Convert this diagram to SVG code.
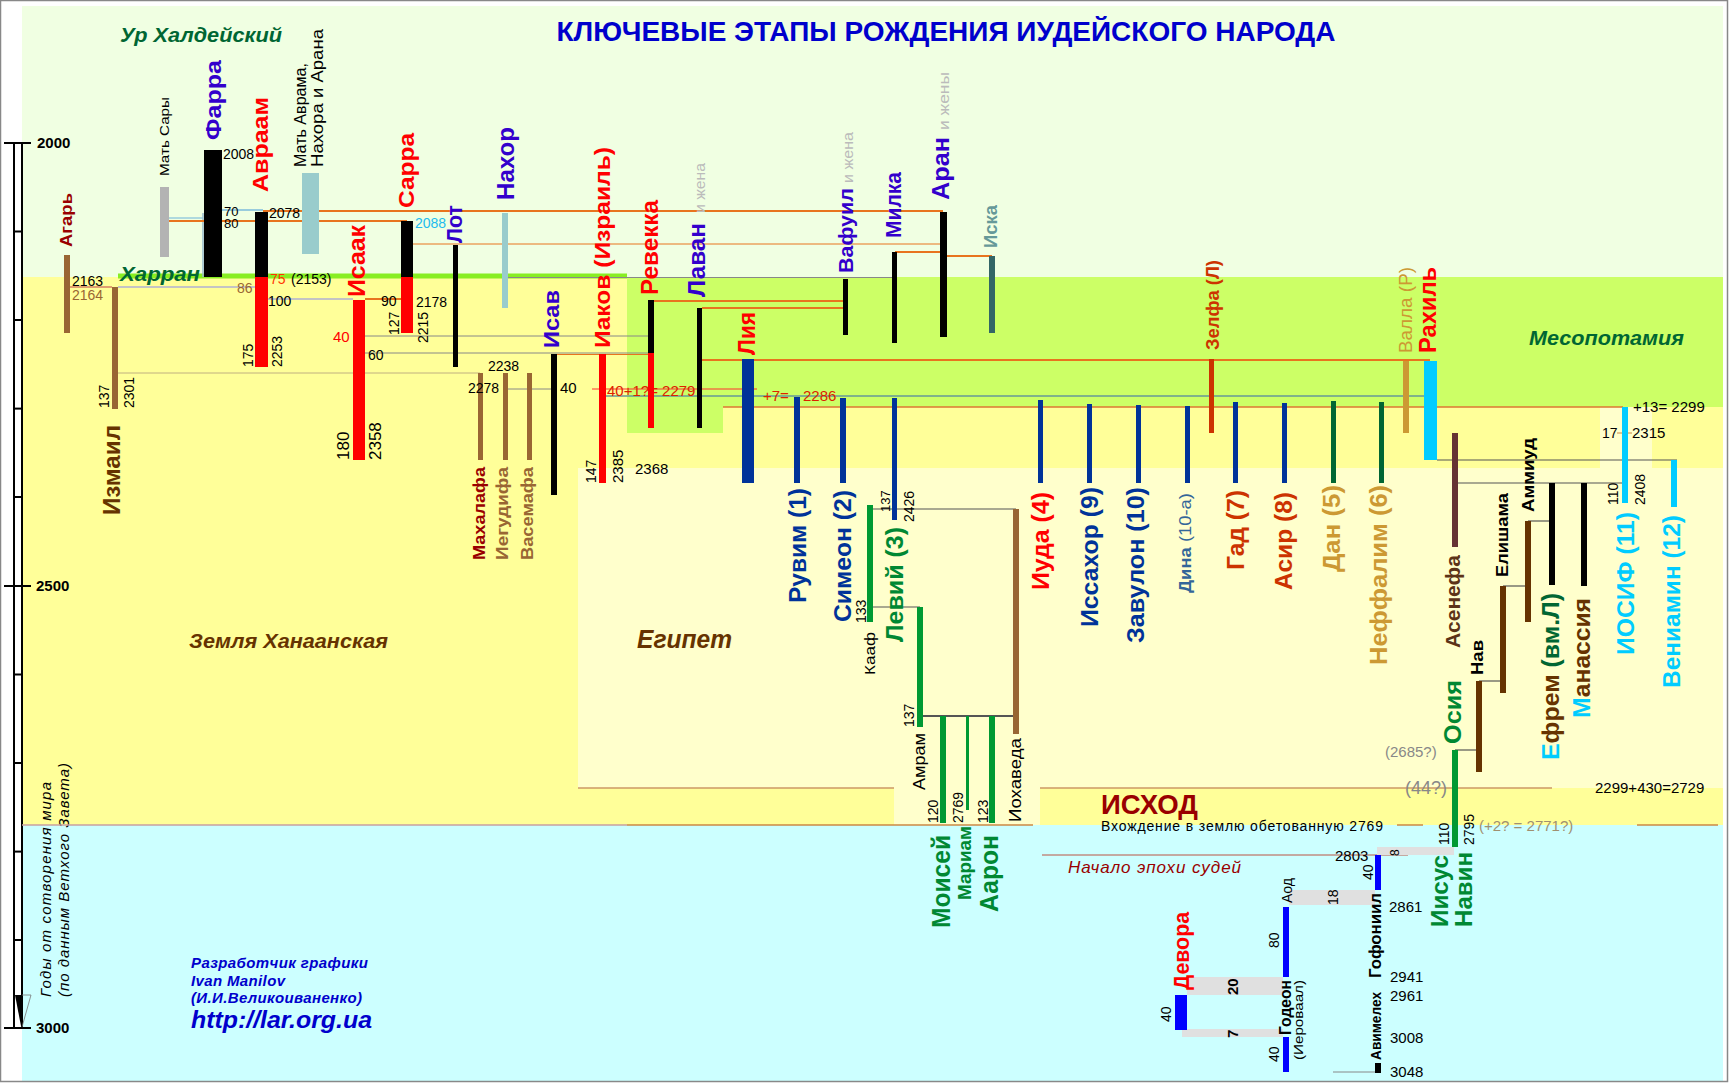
<svg xmlns="http://www.w3.org/2000/svg" width="1729" height="1083" viewBox="0 0 1729 1083">
<style>
text{font-family:"Liberation Sans",Arial,Helvetica,sans-serif}
.b{font-weight:bold}
.it{font-style:italic}
.n{font-size:14px;fill:#000}
.n15{font-size:15px;fill:#000}
.lo{stroke:#E8741E;stroke-width:2;fill:none}
.lot{stroke:#E8741E;stroke-width:1;fill:none}
.lg{stroke:#888;stroke-width:1;fill:none}
.llg{stroke:#C4C4C4;stroke-width:2;fill:none}
.ld{stroke:#555;stroke-width:1.2;fill:none}
.ax{stroke:#000;stroke-width:2}
.band{fill:#E0E0E0}
</style>
<g id="background">
<rect x="0" y="0" width="1729" height="1083" fill="#FFFFFF"/>
<rect x="22" y="6" width="1701" height="271" fill="#F0FFE2"/>
<rect x="22" y="277" width="1701" height="548" fill="#FFFF99"/>
<rect x="627" y="277" width="1096" height="130" fill="#CCFF66"/>
<rect x="627" y="407" width="96" height="26" fill="#CCFF66"/>
<rect x="578" y="468" width="1145" height="320" fill="#FFFFCC"/>
<rect x="1600" y="407" width="52" height="61" fill="#FFFFCC"/>
<rect x="894" y="788" width="146" height="37" fill="#FFFFCC"/>
<rect x="22" y="825" width="1701" height="256" fill="#CCFFFF"/>
<rect x="0.5" y="0.5" width="1727" height="1081" fill="none" stroke="#888" stroke-width="1.5"/>
</g>
<g id="axis">
<line class="ax" x1="14" y1="143" x2="14" y2="1028"/>
<line class="ax" x1="22" y1="143" x2="22" y2="1028"/>
<line class="ax" x1="4" y1="143" x2="31" y2="143"/>
<line class="ax" x1="4" y1="586" x2="31" y2="586"/>
<line class="ax" x1="4" y1="1028" x2="31" y2="1028"/>
<line class="ax" x1="14" y1="231.5" x2="22" y2="231.5"/>
<line class="ax" x1="14" y1="320" x2="22" y2="320"/>
<line class="ax" x1="14" y1="408.6" x2="22" y2="408.6"/>
<line class="ax" x1="14" y1="497" x2="22" y2="497"/>
<line class="ax" x1="14" y1="674.5" x2="22" y2="674.5"/>
<line class="ax" x1="14" y1="763" x2="22" y2="763"/>
<line class="ax" x1="14" y1="851.6" x2="22" y2="851.6"/>
<line class="ax" x1="14" y1="940" x2="22" y2="940"/>
<polygon points="15,995 22,995 21,1026" fill="#000"/>
<line x1="22" y1="995" x2="31" y2="995" stroke="#777" stroke-width="0.8"/>
<line x1="31" y1="995" x2="22" y2="1027" stroke="#777" stroke-width="0.8"/>
<text class="b" font-size="15" x="37" y="148">2000</text>
<text class="b" font-size="15" x="36" y="591">2500</text>
<text class="b" font-size="15" x="36" y="1033">3000</text>
<text class="it" font-size="15" transform="translate(51,997) rotate(-90)" textLength="215" lengthAdjust="spacing">Годы от сотворения мира</text>
<text class="it" font-size="15" transform="translate(69,997) rotate(-90)" textLength="234" lengthAdjust="spacing">(по данным Ветхого Завета)</text>
</g>
<g id="connectors">
<line x1="118" y1="276" x2="627" y2="276" stroke="#88EE22" stroke-width="5"/>
<line x1="70" y1="287" x2="112" y2="287" stroke="#E0A070" stroke-width="2"/>
<line class="llg" x1="118" y1="287" x2="255" y2="287"/>
<line x1="222" y1="210" x2="263" y2="210" stroke="#99CCDD" stroke-width="2"/>
<line x1="164" y1="218" x2="203" y2="218" stroke="#99CCDD" stroke-width="1.5"/>
<line x1="203" y1="213" x2="203" y2="277" stroke="#99BBCC" stroke-width="1.5"/>
<line class="lo" x1="263" y1="211" x2="943" y2="211"/>
<line class="lo" x1="164" y1="221" x2="407" y2="221"/>
<line class="lot" x1="413" y1="244" x2="943" y2="244"/>
<line class="lg" x1="505" y1="277.5" x2="895" y2="277.5" stroke-width="1.5"/>
<line class="lo" x1="895" y1="252" x2="943" y2="252"/>
<line class="lo" x1="943" y1="256" x2="992" y2="256"/>
<line class="llg" x1="263" y1="299" x2="353" y2="299"/>
<line class="lo" x1="365" y1="299" x2="401" y2="299"/>
<line class="lo" x1="654" y1="301" x2="845" y2="301"/>
<line class="lo" x1="702" y1="308" x2="845" y2="308"/>
<line class="lg" x1="365" y1="336" x2="648" y2="336"/>
<line class="lg" x1="365" y1="353" x2="648" y2="353"/>
<line class="lot" x1="557" y1="354.5" x2="648" y2="354.5"/>
<line class="lo" x1="702" y1="360" x2="1430" y2="360" stroke-width="2.5"/>
<line x1="118" y1="373" x2="480" y2="373" stroke="#C0B080" stroke-width="1"/>
<line class="lg" x1="505" y1="389" x2="553" y2="389"/>
<line x1="592" y1="389" x2="757" y2="389" stroke="#FF3333" stroke-width="1"/>
<line x1="603" y1="396" x2="1430" y2="396" stroke="#669999" stroke-width="1.5"/>
<line x1="723" y1="407" x2="1623" y2="407" stroke="#DD7733" stroke-width="1.5"/>
<line x1="1617" y1="433" x2="1632" y2="433" stroke="#CC8844" stroke-width="1"/>
<line class="ld" x1="1437" y1="460" x2="1677" y2="460"/>
<line class="ld" x1="1455" y1="483" x2="1623" y2="483"/>
<line class="ld" x1="870" y1="509" x2="1016" y2="509"/>
<line class="ld" x1="870" y1="607" x2="920" y2="607"/>
<line x1="920" y1="716" x2="1016" y2="716" stroke="#555" stroke-width="2"/>
<line class="ld" x1="1528" y1="521" x2="1552" y2="521"/>
<line class="ld" x1="1503" y1="586" x2="1528" y2="586"/>
<line class="ld" x1="1479" y1="681" x2="1503" y2="681"/>
<line class="ld" x1="1455" y1="750" x2="1479" y2="750"/>
<line x1="578" y1="788" x2="894" y2="788" stroke="#CC9966" stroke-width="1.5"/>
<line x1="1040" y1="788" x2="1552" y2="788" stroke="#CC9966" stroke-width="1.5"/>
<line x1="22" y1="825" x2="627" y2="825" stroke="#C8A0A0" stroke-width="1.5"/>
<line x1="627" y1="825" x2="1033" y2="825" stroke="#CC8844" stroke-width="1.5"/>
<line x1="1397" y1="825" x2="1423" y2="825" stroke="#CC8844" stroke-width="1.5"/>
<line x1="1637" y1="825" x2="1718" y2="825" stroke="#CC8844" stroke-width="1.5"/>
<line x1="1042" y1="855" x2="1408" y2="855" stroke="#BB5544" stroke-width="1"/>
<line class="lg" x1="1333" y1="1072" x2="1377" y2="1072"/>
<rect class="band" x="1377" y="847" width="77" height="8"/>
<rect class="band" x="1289" y="890" width="86" height="15"/>
<rect class="band" x="1187" y="977" width="96" height="18"/>
<rect class="band" x="1182" y="1029" width="101" height="8"/>
</g>
<g id="titles">
<text class="b" font-size="27" fill="#0000CC" x="946" y="41" text-anchor="middle" textLength="779" lengthAdjust="spacingAndGlyphs">КЛЮЧЕВЫЕ ЭТАПЫ РОЖДЕНИЯ ИУДЕЙСКОГО НАРОДА</text>
<text class="b it" font-size="20" fill="#006633" x="120" y="42" textLength="162" lengthAdjust="spacingAndGlyphs">Ур Халдейский</text>
<text class="b it" font-size="21" fill="#006633" x="120" y="281" textLength="80" lengthAdjust="spacingAndGlyphs">Харран</text>
<text class="b it" font-size="21" fill="#006633" x="1529" y="345" textLength="155" lengthAdjust="spacingAndGlyphs">Месопотамия</text>
<text class="b it" font-size="20" fill="#663300" x="189" y="648" textLength="199" lengthAdjust="spacingAndGlyphs">Земля Ханаанская</text>
<text class="b it" font-size="25" fill="#663300" x="637" y="648" textLength="95" lengthAdjust="spacingAndGlyphs">Египет</text>
<text class="b" font-size="27" fill="#990000" x="1101" y="814" textLength="97" lengthAdjust="spacingAndGlyphs">ИСХОД</text>
<text font-size="14" x="1101" y="831" textLength="282" lengthAdjust="spacing">Вхождение в землю обетованную 2769</text>
<text class="it" font-size="17" fill="#990000" x="1068" y="873" textLength="173" lengthAdjust="spacing">Начало эпохи судей</text>
<text class="b it" font-size="15" fill="#0000CC" x="191" y="968" textLength="177" lengthAdjust="spacing">Разработчик графики</text>
<text class="b it" font-size="15" fill="#0000CC" x="191" y="986" textLength="94" lengthAdjust="spacing">Ivan Manilov</text>
<text class="b it" font-size="15" fill="#0000CC" x="191" y="1003" textLength="171" lengthAdjust="spacing">(И.И.Великоиваненко)</text>
<text class="b it" font-size="24" fill="#0000CC" x="191" y="1028" textLength="181" lengthAdjust="spacingAndGlyphs">http://lar.org.ua</text>
</g>
<g id="n-agar">
<rect x="64" y="255" width="6" height="78" fill="#996633"/>
<text class="b" font-size="17" fill="#990000" transform="translate(71.6,247) rotate(-90)" textLength="54" lengthAdjust="spacingAndGlyphs">Агарь</text>
<text class="n" x="72" y="286">2163</text>
<text class="n" x="72" y="300" style="fill:#996633">2164</text>
</g>
<g id="n-izmail">
<rect x="112" y="287" width="6" height="122" fill="#996633"/>
<text class="b" font-size="24" fill="#663300" transform="translate(120.4,515) rotate(-90)" textLength="90" lengthAdjust="spacingAndGlyphs">Измаил</text>
<text class="n" transform="translate(109,408) rotate(-90)">137</text>
<text class="n" transform="translate(134,408) rotate(-90)">2301</text>
</g>
<g id="n-mat-sary">
<rect x="160" y="187" width="9" height="70" fill="#B3B3B3"/>
<text font-size="13" transform="translate(169.3,176) rotate(-90)" textLength="79" lengthAdjust="spacingAndGlyphs">Мать Сары</text>
</g>
<g id="n-farra">
<rect x="204" y="150" width="18" height="127" fill="#000"/>
<text class="b" font-size="22" fill="#3300CC" transform="translate(220.6,140) rotate(-90)" textLength="80" lengthAdjust="spacingAndGlyphs">Фарра</text>
<text class="n" x="223" y="159">2008</text>
<text font-size="13" x="224" y="216">70</text>
<text font-size="13" x="224" y="228">80</text>
</g>
<g id="n-avraam">
<rect x="255" y="212" width="13" height="65" fill="#000"/>
<rect x="255" y="277" width="13" height="90" fill="#FF0000"/>
<text class="b" font-size="22" fill="#FF0000" transform="translate(268.3,192) rotate(-90)" textLength="95" lengthAdjust="spacingAndGlyphs">Авраам</text>
<text class="n" x="269" y="218">2078</text>
<text class="n" x="270" y="284" style="fill:#FF3300">75</text>
<text class="n" x="291" y="284">(2153)</text>
<text class="n" x="237" y="293" style="fill:#996633">86</text>
<text class="n" x="268" y="306">100</text>
<text class="n" transform="translate(253,367) rotate(-90)">175</text>
<text class="n" transform="translate(282,367) rotate(-90)">2253</text>
</g>
<g id="n-mat-avrama">
<rect x="302" y="173" width="17" height="81" fill="#99CCCC"/>
<text font-size="16" transform="translate(305.9,167) rotate(-90)" textLength="104" lengthAdjust="spacingAndGlyphs">Мать Аврама,</text>
<text font-size="16" transform="translate(322.8,167) rotate(-90)" textLength="138" lengthAdjust="spacingAndGlyphs">Нахора и Арана</text>
</g>
<g id="n-sarra">
<rect x="401" y="221" width="12" height="56" fill="#000"/>
<rect x="401" y="277" width="12" height="56" fill="#FF0000"/>
<text class="b" font-size="22" fill="#FF0000" transform="translate(414.3,208) rotate(-90)" textLength="75" lengthAdjust="spacingAndGlyphs">Сарра</text>
<text class="n" x="415" y="228" style="fill:#22BBEE">2088</text>
<text class="n" x="416" y="307">2178</text>
<text class="n" x="381" y="306">90</text>
<text class="n" transform="translate(399,335) rotate(-90)">127</text>
<text class="n" transform="translate(427.5,343) rotate(-90)">2215</text>
</g>
<g id="n-isaak">
<rect x="353" y="300" width="12" height="160" fill="#FF0000"/>
<text class="b" font-size="24" fill="#FF0000" transform="translate(365.4,297) rotate(-90)" textLength="72" lengthAdjust="spacingAndGlyphs">Исаак</text>
<text font-size="15" x="333" y="342" fill="#FF0000">40</text>
<text class="n" x="368" y="360">60</text>
<text font-size="17" transform="translate(349.1,460) rotate(-90)">180</text>
<text font-size="17" transform="translate(380.6,460) rotate(-90)">2358</text>
</g>
<g id="n-lot">
<rect x="453" y="245" width="5" height="122" fill="#000"/>
<text class="b" font-size="22" fill="#3300CC" transform="translate(462.3,243) rotate(-90)" textLength="38" lengthAdjust="spacingAndGlyphs">Лот</text>
</g>
<g id="n-nahor">
<rect x="502" y="213" width="6" height="95" fill="#99CCCC"/>
<text class="b" font-size="23" fill="#3300CC" transform="translate(514.3,200) rotate(-90)" textLength="73" lengthAdjust="spacingAndGlyphs">Нахор</text>
</g>
<g id="n-isav">
<rect x="551" y="354" width="6" height="141" fill="#000"/>
<text class="b" font-size="22" fill="#3300CC" transform="translate(559,348) rotate(-90)" textLength="58" lengthAdjust="spacingAndGlyphs">Исав</text>
<text font-size="15" x="560" y="393">40</text>
</g>
<g id="n-iakov">
<rect x="599" y="354" width="7" height="129" fill="#FF0000"/>
<text class="b" font-size="22" fill="#FF0000" transform="translate(609.8,348) rotate(-90)" textLength="201" lengthAdjust="spacingAndGlyphs">Иаков (Израиль)</text>
<text class="n" transform="translate(596,483) rotate(-90)">147</text>
<text font-size="15" transform="translate(622.5,483) rotate(-90)">2385</text>
<text font-size="15" x="635" y="474">2368</text>
<text font-size="15" x="607" y="396" fill="#DD2200">40+1?= 2279</text>
<text font-size="15" x="763" y="401" fill="#DD2200">+7=</text>
<text font-size="15" x="803" y="401" fill="#DD2200">2286</text>
</g>
<g id="n-revekka">
<rect x="648" y="300" width="6" height="53" fill="#000"/>
<rect x="648" y="353" width="6" height="75" fill="#FF0000"/>
<text class="b" font-size="24" fill="#FF0000" transform="translate(657.6,295) rotate(-90)" textLength="95" lengthAdjust="spacingAndGlyphs">Ревекка</text>
</g>
<g id="n-lavan">
<rect x="697" y="308" width="5" height="120" fill="#000"/>
<text class="b" font-size="23" fill="#3300CC" transform="translate(705.1,297) rotate(-90)" textLength="74" lengthAdjust="spacingAndGlyphs">Лаван</text>
<text font-size="15" fill="#BBBBBB" transform="translate(705.1,213) rotate(-90)" textLength="50" lengthAdjust="spacingAndGlyphs">и жена</text>
</g>
<g id="n-vafuil">
<rect x="843" y="279" width="5" height="56" fill="#000"/>
<text class="b" font-size="21" fill="#3300CC" transform="translate(852.9,273) rotate(-90)" textLength="85" lengthAdjust="spacingAndGlyphs">Вафуил</text>
<text font-size="15" fill="#BBBBBB" transform="translate(852.9,183) rotate(-90)" textLength="51" lengthAdjust="spacingAndGlyphs">и жена</text>
</g>
<g id="n-liya">
<rect x="742" y="359" width="12" height="124" fill="#003399"/>
<text class="b" font-size="23" fill="#FF0000" transform="translate(755.1,355) rotate(-90)" textLength="43" lengthAdjust="spacingAndGlyphs">Лия</text>
</g>
<g id="n-milka">
<rect x="892" y="252" width="5" height="91" fill="#000"/>
<text class="b" font-size="22" fill="#3300CC" transform="translate(901.3,238) rotate(-90)" textLength="66" lengthAdjust="spacingAndGlyphs">Милка</text>
</g>
<g id="n-aran">
<rect x="940" y="212" width="7" height="125" fill="#000"/>
<text class="b" font-size="24" fill="#3300CC" transform="translate(948.9,200) rotate(-90)" textLength="63" lengthAdjust="spacingAndGlyphs">Аран</text>
<text font-size="15" fill="#BBBBBB" transform="translate(948.9,130) rotate(-90)" textLength="58" lengthAdjust="spacingAndGlyphs">и жены</text>
</g>
<g id="n-iska">
<rect x="989" y="256" width="6" height="77" fill="#336666"/>
<text class="b" font-size="19" fill="#669999" transform="translate(996.8,248) rotate(-90)" textLength="43" lengthAdjust="spacingAndGlyphs">Иска</text>
</g>
<g id="n-zelfa">
<rect x="1209" y="359" width="5" height="74" fill="#CC3300"/>
<text font-size="19" fill="#CC3300" style="font-weight:600" transform="translate(1218.8,350) rotate(-90)" textLength="90" lengthAdjust="spacingAndGlyphs">Зелфа (Л)</text>
</g>
<g id="n-valla">
<rect x="1403" y="361" width="6" height="72" fill="#CC9933"/>
<text font-size="18" fill="#CC9933" transform="translate(1412.4,353) rotate(-90)" textLength="86" lengthAdjust="spacingAndGlyphs">Валла (Р)</text>
</g>
<g id="n-rahil">
<rect x="1424" y="361" width="13" height="99" fill="#00CCFF"/>
<text class="b" font-size="24" fill="#FF0000" transform="translate(1435.9,353) rotate(-90)" textLength="86" lengthAdjust="spacingAndGlyphs">Рахиль</text>
</g>
<g id="n-mahalafa">
<rect x="478" y="373" width="5" height="87" fill="#996633"/>
<text class="b" font-size="17" fill="#990000" transform="translate(485.1,560) rotate(-90)" textLength="93" lengthAdjust="spacingAndGlyphs">Махалафа</text>
<text class="n" x="488" y="371">2238</text>
<text class="n" x="468" y="393">2278</text>
</g>
<g id="n-iegudifa">
<rect x="503" y="373" width="5" height="87" fill="#996633"/>
<text class="b" font-size="17" fill="#996633" transform="translate(508.1,560) rotate(-90)" textLength="93" lengthAdjust="spacingAndGlyphs">Иегудифа</text>
</g>
<g id="n-vasemafa">
<rect x="527" y="373" width="5" height="87" fill="#996633"/>
<text class="b" font-size="17" fill="#996633" transform="translate(533.1,560) rotate(-90)" textLength="93" lengthAdjust="spacingAndGlyphs">Васемафа</text>
</g>
<g id="n-ruvim">
<rect x="794" y="397" width="6" height="86" fill="#003399"/>
<text class="b" font-size="24" fill="#003399" transform="translate(806.4,603) rotate(-90)" textLength="115" lengthAdjust="spacingAndGlyphs">Рувим (1)</text>
</g>
<g id="n-simeon">
<rect x="840" y="398" width="6" height="85" fill="#003399"/>
<text class="b" font-size="24" fill="#003399" transform="translate(851.4,622) rotate(-90)" textLength="132" lengthAdjust="spacingAndGlyphs">Симеон (2)</text>
</g>
<g id="n-leviy">
<rect x="892" y="398" width="5" height="122" fill="#003399"/>
<text class="b" font-size="24" fill="#008833" transform="translate(902.9,642) rotate(-90)" textLength="115" lengthAdjust="spacingAndGlyphs">Левий (3)</text>
<text font-size="13" transform="translate(890.3,512) rotate(-90)">137</text>
<text class="n" transform="translate(914,522) rotate(-90)">2426</text>
</g>
<g id="n-kaaf">
<rect x="867" y="505" width="6" height="117" fill="#009933"/>
<text font-size="15" transform="translate(875,675) rotate(-90)" textLength="43" lengthAdjust="spacingAndGlyphs">Кааф</text>
<text class="n" transform="translate(866,623) rotate(-90)">133</text>
</g>
<g id="n-amram">
<rect x="917" y="607" width="6" height="120" fill="#009933"/>
<text font-size="17" transform="translate(925.1,790) rotate(-90)" textLength="57" lengthAdjust="spacingAndGlyphs">Амрам</text>
<text class="n" transform="translate(914,727) rotate(-90)">137</text>
</g>
<g id="n-iohaveda">
<rect x="1013" y="509" width="6" height="225" fill="#996633"/>
<text font-size="17" transform="translate(1020.6,822) rotate(-90)" textLength="84" lengthAdjust="spacingAndGlyphs">Иохаведа</text>
</g>
<g id="n-moisey">
<rect x="940" y="716" width="6" height="107" fill="#009933"/>
<text class="b" font-size="25" fill="#008833" transform="translate(950.3,928) rotate(-90)" textLength="93" lengthAdjust="spacingAndGlyphs">Моисей</text>
<text class="n" transform="translate(937.5,823) rotate(-90)">120</text>
</g>
<g id="n-mariam">
<rect x="966" y="716" width="3" height="94" fill="#009933"/>
<text class="b" font-size="18" fill="#008833" transform="translate(971.4,900) rotate(-90)" textLength="74" lengthAdjust="spacingAndGlyphs">Мариам</text>
<text class="n" transform="translate(962.5,823) rotate(-90)">2769</text>
</g>
<g id="n-aaron">
<rect x="989" y="716" width="6" height="107" fill="#009933"/>
<text class="b" font-size="25" fill="#008833" transform="translate(998.3,912) rotate(-90)" textLength="77" lengthAdjust="spacingAndGlyphs">Аарон</text>
<text class="n" transform="translate(987.5,823) rotate(-90)">123</text>
</g>
<g id="n-iuda">
<rect x="1038" y="400" width="5" height="83" fill="#003399"/>
<text class="b" font-size="24" fill="#FF0000" transform="translate(1049.4,590) rotate(-90)" textLength="98" lengthAdjust="spacingAndGlyphs">Иуда (4)</text>
</g>
<g id="n-issahor">
<rect x="1087" y="404" width="5" height="79" fill="#003399"/>
<text class="b" font-size="24" fill="#003399" transform="translate(1097.9,627) rotate(-90)" textLength="140" lengthAdjust="spacingAndGlyphs">Иссахор (9)</text>
</g>
<g id="n-zavulon">
<rect x="1136" y="405" width="5" height="78" fill="#003399"/>
<text class="b" font-size="24" fill="#003399" transform="translate(1144.4,643) rotate(-90)" textLength="156" lengthAdjust="spacingAndGlyphs">Завулон (10)</text>
</g>
<g id="n-dina">
<rect x="1185" y="406" width="5" height="77" fill="#003399"/>
<text font-size="17" fill="#336699" transform="translate(1191.1,593) rotate(-90)" textLength="100" lengthAdjust="spacingAndGlyphs"><tspan font-weight="bold">Дина</tspan> (10-а)</text>
</g>
<g id="n-gad">
<rect x="1233" y="402" width="5" height="81" fill="#003399"/>
<text class="b" font-size="24" fill="#CC3300" transform="translate(1244.4,570) rotate(-90)" textLength="80" lengthAdjust="spacingAndGlyphs">Гад (7)</text>
</g>
<g id="n-asir">
<rect x="1282" y="403" width="5" height="80" fill="#003399"/>
<text class="b" font-size="24" fill="#CC3300" transform="translate(1291.9,590) rotate(-90)" textLength="98" lengthAdjust="spacingAndGlyphs">Асир (8)</text>
</g>
<g id="n-dan">
<rect x="1331" y="401" width="5" height="82" fill="#006633"/>
<text class="b" font-size="24" fill="#CC9933" transform="translate(1340.4,572) rotate(-90)" textLength="87" lengthAdjust="spacingAndGlyphs">Дан (5)</text>
</g>
<g id="n-neffalim">
<rect x="1379" y="402" width="5" height="81" fill="#006633"/>
<text class="b" font-size="24" fill="#CC9933" transform="translate(1386.9,665) rotate(-90)" textLength="180" lengthAdjust="spacingAndGlyphs">Неффалим (6)</text>
</g>
<g id="n-asenefa">
<rect x="1452" y="433" width="6" height="114" fill="#663333"/>
<text class="b" font-size="21" fill="#5C3317" transform="translate(1459.9,648) rotate(-90)" textLength="93" lengthAdjust="spacingAndGlyphs">Асенефа</text>
</g>
<g id="n-iosif">
<rect x="1622" y="407" width="6" height="96" fill="#00CCFF"/>
<text class="b" font-size="24" fill="#00CCFF" transform="translate(1634.4,655) rotate(-90)" textLength="143" lengthAdjust="spacingAndGlyphs">ИОСИФ (11)</text>
<text class="n15" x="1633" y="412">+13= 2299</text>
<text class="n" x="1602" y="438">17</text>
<text class="n15" x="1632" y="438">2315</text>
<text class="n" transform="translate(1618,505) rotate(-90)">110</text>
<text class="n" transform="translate(1645,505) rotate(-90)">2408</text>
</g>
<g id="n-veniamin">
<rect x="1671" y="460" width="6" height="47" fill="#00CCFF"/>
<text class="b" font-size="24" fill="#00CCFF" transform="translate(1680.4,688) rotate(-90)" textLength="173" lengthAdjust="spacingAndGlyphs">Вениамин (12)</text>
</g>
<g id="n-ammiud">
<rect x="1525" y="521" width="6" height="101" fill="#663300"/>
<text class="b" font-size="17" transform="translate(1534.1,512) rotate(-90)" textLength="74" lengthAdjust="spacingAndGlyphs">Аммиуд</text>
</g>
<g id="n-elishama">
<rect x="1500" y="586" width="6" height="107" fill="#663300"/>
<text class="b" font-size="17" transform="translate(1508.1,577) rotate(-90)" textLength="84" lengthAdjust="spacingAndGlyphs">Елишама</text>
</g>
<g id="n-nav">
<rect x="1476" y="681" width="6" height="91" fill="#663300"/>
<text class="b" font-size="17" transform="translate(1483.1,675) rotate(-90)" textLength="35" lengthAdjust="spacingAndGlyphs">Нав</text>
</g>
<g id="n-efrem">
<rect x="1549" y="483" width="6" height="102" fill="#000"/>
<text class="b" font-size="24" transform="translate(1558.9,760) rotate(-90)" textLength="167" lengthAdjust="spacingAndGlyphs"><tspan fill="#00CCFF">Е</tspan><tspan fill="#663300">фрем</tspan><tspan fill="#006633"> (вм.Л)</tspan></text>
</g>
<g id="n-manassiya">
<rect x="1581" y="483" width="6" height="103" fill="#000"/>
<text class="b" font-size="24" transform="translate(1589.9,718) rotate(-90)" textLength="120" lengthAdjust="spacingAndGlyphs"><tspan fill="#00CCFF">М</tspan><tspan fill="#663300">анассия</tspan></text>
</g>
<g id="n-osiya">
<rect x="1452" y="750" width="6" height="97" fill="#009933"/>
<text class="b" font-size="24" fill="#008833" transform="translate(1460.9,744) rotate(-90)" textLength="64" lengthAdjust="spacingAndGlyphs">Осия</text>
<text font-size="15" fill="#888888" x="1385" y="757">(2685?)</text>
<text font-size="18" fill="#888888" x="1405" y="794">(44?)</text>
<text class="n15" x="1595" y="793">2299+430=2729</text>
</g>
<g id="n-iisus-navin">
<text class="b" font-size="24" fill="#008833" transform="translate(1447.9,927) rotate(-90)" textLength="72" lengthAdjust="spacingAndGlyphs">Иисус</text>
<text class="b" font-size="24" fill="#008833" transform="translate(1471.9,927) rotate(-90)" textLength="75" lengthAdjust="spacingAndGlyphs">Навин</text>
<text class="n" transform="translate(1448.5,845) rotate(-90)">110</text>
<text class="n" transform="translate(1473.5,845) rotate(-90)">2795</text>
<text font-size="15" fill="#A09070" x="1479" y="831">(+2? = 2771?)</text>
<text font-size="12" transform="translate(1399,856) rotate(-90)">8</text>
</g>
<g id="n-gofoniil">
<rect x="1375" y="855" width="6" height="35" fill="#0000FF"/>
<text class="b" font-size="17" transform="translate(1381.1,978) rotate(-90)" textLength="85" lengthAdjust="spacingAndGlyphs">Гофониил</text>
<text class="n" transform="translate(1372.5,880) rotate(-90)">40</text>
<text class="n" transform="translate(1338,905) rotate(-90)">18</text>
<text class="n15" x="1335" y="861">2803</text>
<text class="n15" x="1389" y="912">2861</text>
<text class="n15" x="1390" y="982">2941</text>
<text class="n15" x="1390" y="1001">2961</text>
<text class="n15" x="1390" y="1043">3008</text>
<text class="n15" x="1390" y="1077">3048</text>
</g>
<g id="n-avimeleh">
<rect x="1375" y="1063" width="6" height="10" fill="#000"/>
<text class="b" font-size="15" transform="translate(1380.5,1060) rotate(-90)" textLength="68" lengthAdjust="spacingAndGlyphs">Авимелех</text>
</g>
<g id="n-aod">
<rect x="1283" y="907" width="6" height="70" fill="#0000FF"/>
<text font-size="15" transform="translate(1292,903) rotate(-90)" textLength="25" lengthAdjust="spacingAndGlyphs">Аод</text>
<text class="n" transform="translate(1279,948) rotate(-90)">80</text>
</g>
<g id="n-devora">
<rect x="1175" y="995" width="12" height="35" fill="#0000FF"/>
<text class="b" font-size="22" fill="#FF0000" transform="translate(1189.3,990) rotate(-90)" textLength="78" lengthAdjust="spacingAndGlyphs">Девора</text>
<text class="n" transform="translate(1171,1022) rotate(-90)">40</text>
<text class="b" font-size="15" transform="translate(1237.5,995) rotate(-90)">20</text>
<text class="b" font-size="15" transform="translate(1237.5,1038) rotate(-90)">7</text>
</g>
<g id="n-godeon">
<rect x="1283" y="1037" width="6" height="35" fill="#0000FF"/>
<text class="b" font-size="16" transform="translate(1290.8,1035) rotate(-90)" textLength="55" lengthAdjust="spacingAndGlyphs">Годеон</text>
<text font-size="13" transform="translate(1303.3,1060) rotate(-90)" textLength="80" lengthAdjust="spacingAndGlyphs">(Иероваал)</text>
<text class="n" transform="translate(1279,1062) rotate(-90)">40</text>
</g>
</svg>
